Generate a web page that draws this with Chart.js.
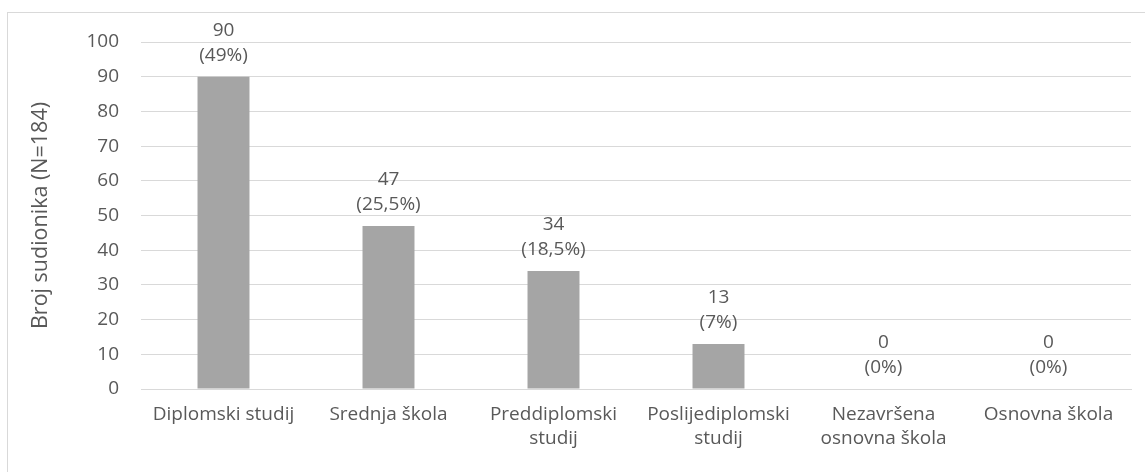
<!DOCTYPE html>
<html><head><meta charset="utf-8">
<script src="https://cdn.jsdelivr.net/npm/chart.js@4"></script>
<style>
html,body{margin:0;padding:0;background:#fff;}
#wrap{position:absolute;left:0;top:0;width:1145px;height:472px;}
#frame{position:absolute;left:7px;top:12px;width:1145px;height:470px;border-left:1px solid #d9d9d9;border-top:1px solid #d9d9d9;}
</style></head>
<body>
<div id="frame"></div>
<div id="wrap"><canvas id="c" width="1145" height="472"></canvas></div>
<script>
const categories = [["Diplomski studij"],["Srednja škola"],["Preddiplomski","studij"],["Poslijediplomski","studij"],["Nezavršena","osnovna škola"],["Osnovna škola"]];
const values = [90, 47, 34, 13, 0, 0];
const percentLabels = ["(49%)","(25,5%)","(18,5%)","(7%)","(0%)","(0%)"];
const yTicks = [0,10,20,30,40,50,60,70,80,90,100];
const yTitle = "Broj sudionika (N=184)";

const FONT = "'Open Sans', 'Noto Sans', sans-serif";
const TXT = "#595959";
const FS = 19;

const labelPlugin = {
  id: 'barLabels',
  afterDatasetsDraw(chart) {
    const ctx = chart.ctx;
    const meta = chart.getDatasetMeta(0);
    const y = chart.scales.y;
    ctx.save();
    ctx.font = FS + "px " + FONT;
    ctx.fillStyle = TXT;
    ctx.textAlign = 'center';
    ctx.textBaseline = 'middle';
    meta.data.forEach((bar, i) => {
      const top = y.getPixelForValue(values[i]);
      ctx.fillText(String(values[i]), bar.x, top - 46);
      ctx.fillText(percentLabels[i], bar.x, top - 21);
    });
    ctx.restore();
  }
};

new Chart(document.getElementById('c'), {
  type: 'bar',
  data: {
    labels: categories,
    datasets: [{
      data: values,
      backgroundColor: '#a5a5a5',
      barPercentage: 0.315,
      categoryPercentage: 1.0
    }]
  },
  options: {
    responsive: false,
    animation: false,
    layout: { padding: { left: 28, right: 14, top: 42, bottom: 0 } },
    plugins: { legend: { display: false }, tooltip: { enabled: false } },
    scales: {
      y: {
        min: 0, max: 100,
        afterBuildTicks(scale) { scale.ticks = yTicks.map(v => ({ value: v })); },
        afterFit(scale) { scale.width = 113; },
        ticks: { color: TXT, font: { family: FONT, size: FS }, padding: 22 },
        grid: { color: '#d9d9d9', lineWidth: 1, drawTicks: false },
        border: { display: false },
        title: { display: true, text: yTitle, color: TXT, font: { family: FONT, size: 21.5 }, padding: { top: 0, bottom: 0 } }
      },
      x: {
        afterFit(scale) { scale.height = 83; },
        ticks: { color: TXT, font: { family: FONT, size: FS, lineHeight: 1.3 }, padding: 13, maxRotation: 0, autoSkip: false },
        grid: { display: false, drawTicks: false },
        border: { display: true, color: '#d9d9d9' }
      }
    }
  },
  plugins: [labelPlugin]
});
</script>
</body></html>
